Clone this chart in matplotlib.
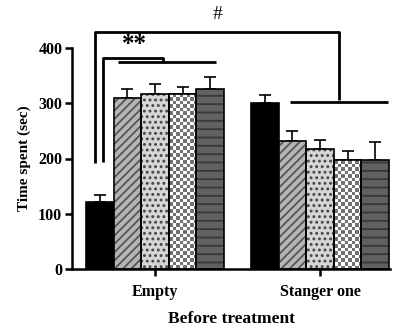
import numpy as np
import matplotlib
matplotlib.use("Agg")
import matplotlib.pyplot as plt

groups = ["Empty", "Stanger one"]
empty_mean = [121, 309, 317, 316, 325]
empty_err = [13, 17, 18, 14, 23]
stranger_mean = [300, 232, 217, 197, 197]
stranger_err = [15, 17, 16, 16, 32]

plt.rcParams['font.family'] = ['Liberation Serif', 'DejaVu Serif']
plt.rcParams['hatch.linewidth'] = 1.3

fig = plt.figure(figsize=(3.99, 3.29), dpi=100)
ax = fig.add_axes([72/399, 60/329, 318/399, 221/329])

w = 0.167
# (face, hatch, hatch colour)
styles = [
    ("black", None, None),
    ("#b5b5b5", "////", "#555555"),
    ("#d6d6d6", "...", "#444444"),
    ("checker", None, None),
    ("#616161", "--", "#383838"),
]

means = [empty_mean, stranger_mean]
errs = [empty_err, stranger_err]

for g in range(2):
    for i in range(5):
        x = g + (i - 2) * w
        h = means[g][i]
        face, hatch, hc = styles[i]
        if face == "checker":
            outline = ax.bar(x, h, w, facecolor="white", edgecolor="black", linewidth=1.2, zorder=2)[0]
            dx = 3.5 / 165.0
            dy = 3.5 / 0.5525
            nx = int(np.ceil(w / dx))
            ny = int(np.ceil(h / dy))
            cb = (np.add.outer(np.arange(ny), np.arange(nx)) % 2).astype(float)
            im = ax.imshow(cb, extent=[x - w/2, x - w/2 + nx*dx, 0, ny*dy], origin="lower",
                           cmap="gray", vmin=-0.8, vmax=1, interpolation="nearest",
                           aspect="auto", zorder=2.5)
            im.set_clip_path(outline)
            ax.bar(x, h, w, fill=False, edgecolor="black", linewidth=1.2, zorder=3)
        elif hatch:
            ax.bar(x, h, w, facecolor=face, edgecolor=hc, hatch=hatch, linewidth=0, zorder=2)
            ax.bar(x, h, w, fill=False, edgecolor="black", linewidth=1.2, zorder=3)
        else:
            ax.bar(x, h, w, facecolor=face, edgecolor="black", linewidth=1.2, zorder=2)
        ax.errorbar(x, h, yerr=[[0], [errs[g][i]]], fmt="none", ecolor="black",
                    elinewidth=1.2, capsize=4, capthick=1.2, zorder=1)

ax.set_xlim(-0.503, 1.424)
ax.set_ylim(0, 400)
ax.set_yticks([0, 100, 200, 300, 400])
ax.set_xticks([0, 1])
ax.set_xticklabels(groups, fontsize=11.5, fontweight="bold")
for t in ax.get_yticklabels():
    t.set_fontweight("bold")
    t.set_fontsize(11.5)
ax.tick_params(axis="both", width=1.8, length=5, pad=2)
ax.tick_params(axis="x", pad=6)
ax.set_ylabel("Time spent (sec)", fontsize=11, fontweight="bold", labelpad=5)
ax.set_xlabel("Before treatment", fontsize=12.5, fontweight="bold", labelpad=8)
for s in ["top", "right"]:
    ax.spines[s].set_visible(False)
for s in ["left", "bottom"]:
    ax.spines[s].set_linewidth(1.8)

# significance brackets
kw = dict(color="black", lw=2.0, clip_on=False, solid_joinstyle="round",
          solid_capstyle="butt", zorder=5)
ax.plot([-0.364, -0.364, 1.115, 1.115], [192, 429, 429, 306], **kw)
ax.plot([0.818, 1.412], [302, 302], **kw)
ax.plot([-0.315, -0.315, 0.048, 0.048], [194, 382, 382, 375], **kw)
ax.plot([-0.224, 0.37], [375, 375], **kw)
ax.text(0.38, 460, "#", ha="center", va="center", fontsize=14, clip_on=False)
ax.text(-0.127, 406, "**", ha="center", va="center", fontsize=18, fontweight="bold", clip_on=False)

fig.savefig("out.png", dpi=100)
